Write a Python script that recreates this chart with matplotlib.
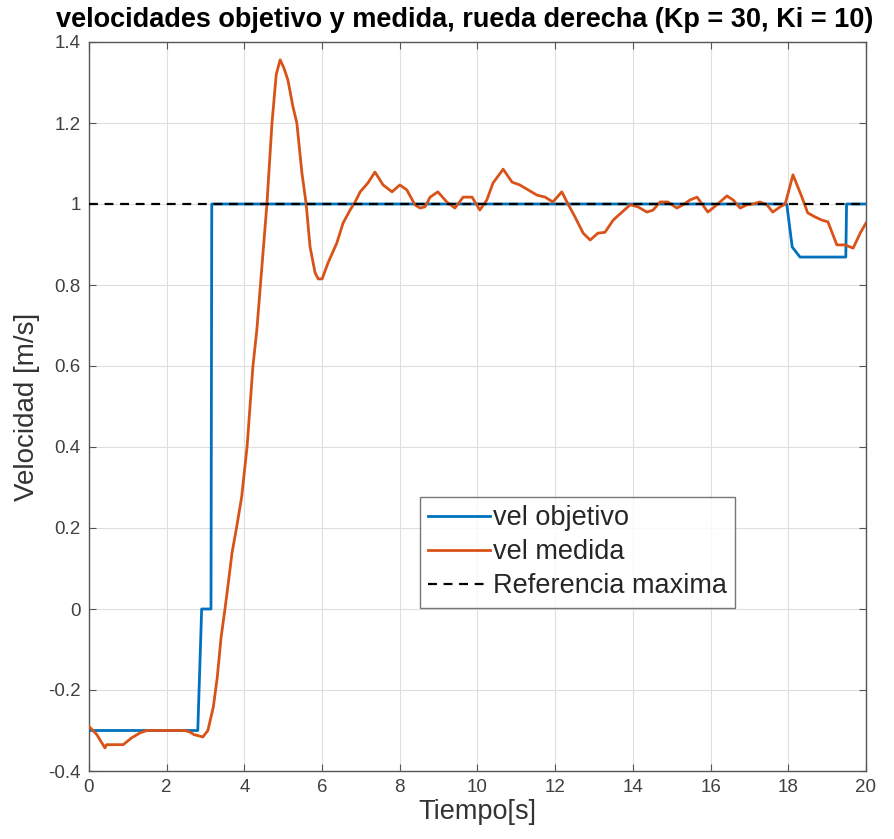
import matplotlib
matplotlib.use("Agg")
import matplotlib.pyplot as plt
from matplotlib.ticker import FuncFormatter

plt.rcParams['font.family'] = ['Liberation Sans', 'DejaVu Sans']

# Target wheel speed (step profile)
t_obj = [0.0, 2.80, 2.90, 3.14, 3.16, 17.96, 18.10, 18.30, 19.48, 19.50, 20.0]
v_obj = [-0.30, -0.30, 0.0, 0.0, 1.0, 1.0, 0.894, 0.869, 0.869, 1.0, 1.0]

# Measured wheel speed
t_med = [0.0, 0.20, 0.41, 0.45, 0.88, 1.10, 1.31, 1.49, 2.47, 2.60, 2.70, 2.93,
         3.06, 3.20, 3.30, 3.40, 3.50, 3.60, 3.68, 3.80, 3.93, 4.07, 4.22, 4.32,
         4.45, 4.58, 4.71, 4.82, 4.92, 5.02, 5.12, 5.25, 5.35, 5.48, 5.59, 5.69,
         5.82, 5.90, 6.00, 6.15, 6.38, 6.54, 6.72, 6.85, 6.98, 7.18, 7.36, 7.57,
         7.80, 8.00, 8.18, 8.39, 8.52, 8.65, 8.78, 8.98, 9.21, 9.42, 9.63, 9.86,
         10.06, 10.24, 10.40, 10.66, 10.89, 11.09, 11.30, 11.53, 11.74, 11.94,
         12.17, 12.33, 12.51, 12.72, 12.90, 13.10, 13.28, 13.49, 13.72, 13.93,
         14.13, 14.36, 14.52, 14.70, 14.90, 15.13, 15.29, 15.47, 15.65, 15.78,
         15.93, 16.16, 16.42, 16.58, 16.76, 16.94, 17.09, 17.27, 17.45, 17.60,
         17.79, 17.92, 18.12, 18.35, 18.50, 18.69, 18.87, 19.02, 19.25, 19.46,
         19.67, 19.85, 20.0]
v_med = [-0.29, -0.31, -0.343, -0.335, -0.335, -0.318, -0.306, -0.30, -0.30,
         -0.304, -0.31, -0.316, -0.30, -0.242, -0.17, -0.07, 0.0, 0.075, 0.138,
         0.202, 0.277, 0.402, 0.60, 0.689, 0.845, 1.0, 1.2, 1.32, 1.356, 1.335,
         1.306, 1.24, 1.2, 1.077, 1.0, 0.894, 0.83, 0.815, 0.815, 0.854, 0.904,
         0.953, 0.985, 1.005, 1.03, 1.052, 1.079, 1.047, 1.03, 1.047, 1.035,
         0.998, 0.99, 0.993, 1.017, 1.03, 1.005, 0.99, 1.017, 1.017, 0.985,
         1.01, 1.052, 1.086, 1.054, 1.047, 1.035, 1.022, 1.017, 1.005, 1.03,
         1.0, 0.968, 0.928, 0.911, 0.928, 0.93, 0.96, 0.98, 0.998, 0.993, 0.98,
         0.985, 1.005, 1.005, 0.99, 0.998, 1.01, 1.017, 1.0, 0.98, 0.998, 1.02,
         1.01, 0.99, 0.998, 1.0, 1.005, 0.998, 0.98, 0.993, 1.0, 1.072, 1.017,
         0.978, 0.968, 0.96, 0.956, 0.899, 0.899, 0.891, 0.928, 0.953]

# Maximum reference speed
ref_max = 1.0
x_ticks = [0, 2, 4, 6, 8, 10, 12, 14, 16, 18, 20]
y_ticks = [-0.4, -0.2, 0, 0.2, 0.4, 0.6, 0.8, 1.0, 1.2, 1.4]

fig = plt.figure(figsize=(8.95, 8.39), dpi=100)
ax = fig.add_axes([89/895, 1 - 771/839, (866 - 89)/895, (771 - 42)/839])

ax.plot(t_obj, v_obj, color='#0072BD', lw=2.0, label='vel objetivo', zorder=3)
ax.plot(t_med, v_med, color='#D95319', lw=2.0, label='vel medida', zorder=4)
ax.axhline(ref_max, color='black', lw=1.6, ls=(0, (4, 3)), label='Referencia maxima', zorder=5)

ax.set_xlim(0, 20)
ax.set_ylim(-0.4, 1.4)
ax.set_xticks(x_ticks)
ax.set_yticks(y_ticks)
ax.yaxis.set_major_formatter(FuncFormatter(lambda v, p: f"{v:g}"))
ax.grid(True, color='#dedede', lw=0.8)
ax.set_axisbelow(True)
ax.tick_params(direction='in', top=True, right=True, length=5, width=0.8,
               color='#555555', labelcolor='#404040', labelsize=13.5)
ax.tick_params(axis='x', pad=6)
ax.tick_params(axis='y', pad=6)
for s in ax.spines.values():
    s.set_color('#555555')
    s.set_linewidth(1.0)

ax.set_xlabel('Tiempo[s]', fontsize=19.5, color='#333333', labelpad=2)
ax.set_ylabel('Velocidad [m/s]', fontsize=20, color='#333333', labelpad=6)
ax.set_title('velocidades objetivo y medida, rueda derecha (Kp = 30, Ki = 10)',
             fontsize=19.5, fontweight='bold', pad=11, x=0.483)

leg = ax.legend(loc='upper left', bbox_to_anchor=((420 - 89)/777, (771 - 497)/729),
                fontsize=19.5, frameon=True, fancybox=False, handlelength=2.3,
                handletextpad=0.1, borderpad=0.3, labelspacing=0.3, borderaxespad=0)
leg.get_frame().set_edgecolor('#555555')
leg.get_frame().set_linewidth(1.0)
for txt in leg.get_texts():
    txt.set_color('#262626')

fig.savefig('out.png', dpi=100)
